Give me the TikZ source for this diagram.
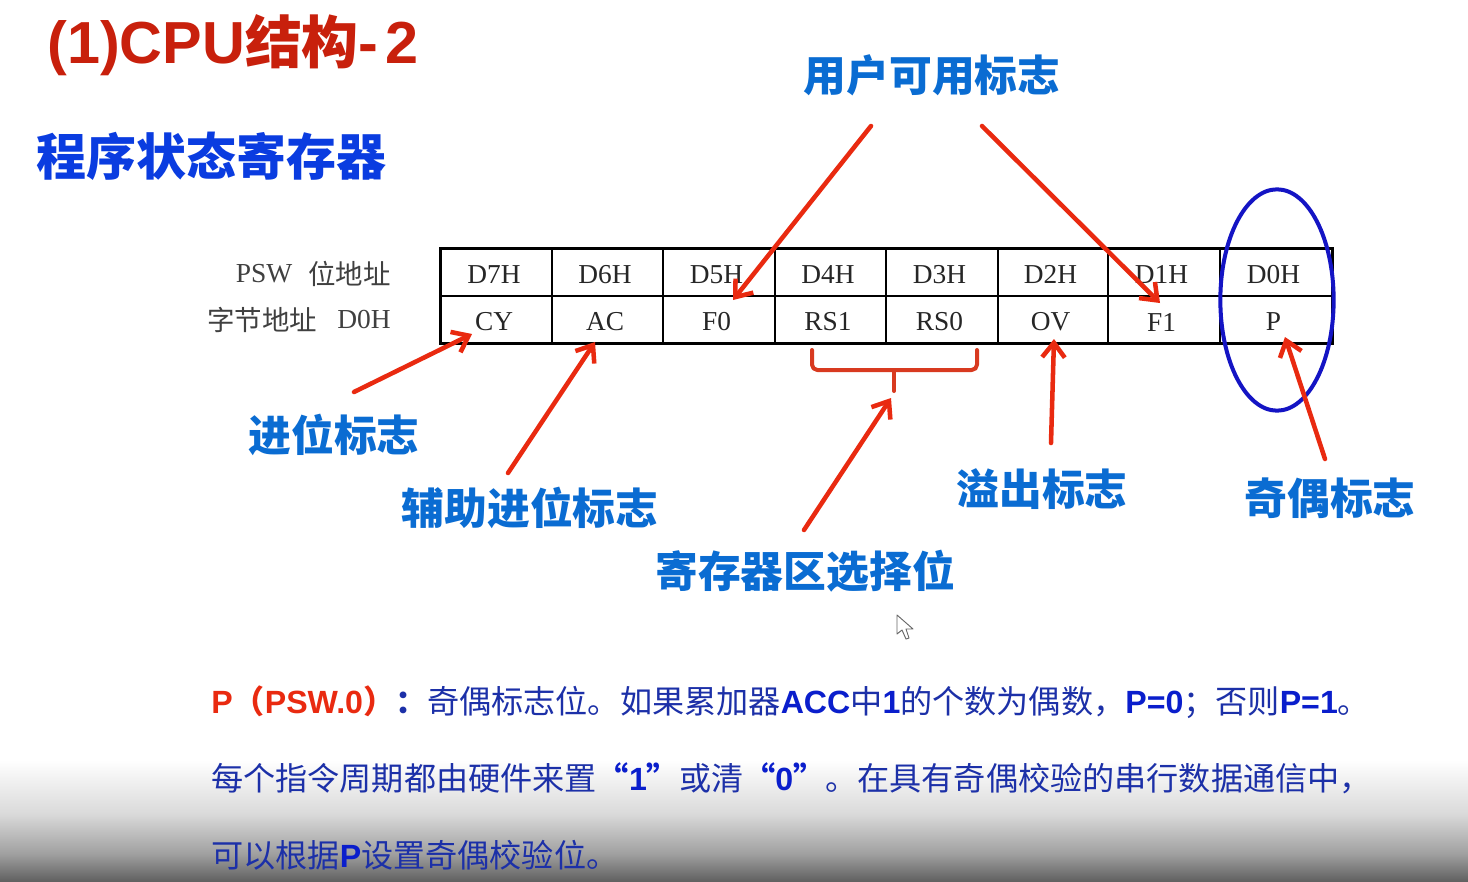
\documentclass[tikz,border=0pt]{standalone}
\usepackage{fontspec}
\setmainfont{Noto Sans CJK SC}
\newfontfamily\lat{Liberation Sans}
\newfontfamily\tnr{Liberation Serif}
\usetikzlibrary{arrows.meta,shapes.geometric}
\definecolor{arrowred}{HTML}{E92A10}
\definecolor{bracered}{HTML}{D83A20}
\definecolor{titlered}{HTML}{C8200C}
\definecolor{labelblue}{HTML}{0A6CD2}
\definecolor{headblue}{HTML}{0A3CE0}
\definecolor{bodyblue}{HTML}{1C30A8}
\definecolor{boldblue}{HTML}{0A1ECC}
\definecolor{ringblue}{HTML}{1414C4}
\newcommand{\Lb}[1]{{\lat\bfseries\color{boldblue}#1}}
\newcommand{\Qb}[1]{{\bfseries\color{boldblue}#1}}
\tikzset{
  x=0.75pt,y=-0.75pt,
  cellbox/.style={draw=black,line width=1.1pt,minimum height=47*0.75pt,inner sep=0pt},
  celltext/.style={inner sep=0pt,font=\tnr\fontsize{20.5}{24}\selectfont,text=black!85},
  sidelabel/.style={anchor=east,inner sep=0pt,text=black!75,font=\fontsize{20.6}{24}\selectfont},
  flaglabel/.style={inner sep=0pt,text=labelblue,font=\bfseries\fontsize{32.1}{36}\selectfont},
  bodyline/.style={anchor=west,inner sep=0pt,text=bodyblue,font=\fontsize{24.1}{28}\selectfont},
  redarrow/.style={draw=arrowred,line width=3.4pt,line cap=round,-{Straight Barb[length=11pt,width=17pt,line width=3.4pt]}},
}
\begin{document}
\begin{tikzpicture}
\useasboundingbox (0,0) rectangle (1468,882);
\fill[white] (0,0) rectangle (1468,882);
\shade[top color=white,bottom color=black!15] (0,760) rectangle (1468,815);
\shade[top color=black!15,bottom color=black!38] (0,814.5) rectangle (1468,855);
\shade[top color=black!38,bottom color=black!63] (0,854.5) rectangle (1468,882);

\node[anchor=west,inner sep=0pt,text=titlered] (title) at (47,45.5)
  {\bfseries\fontsize{42.7}{48}\selectfont {\lat\fontsize{44.5}{48}\selectfont (1)CPU}结构{\lat\fontsize{44.5}{48}\selectfont -\hspace{5pt}2}};
\node[anchor=west,inner sep=0pt,text=headblue] (head) at (36,156)
  {\bfseries\fontsize{37.5}{44}\selectfont 程序状态寄存器};

\node[sidelabel] (rowa) at (391,273.5) {{\tnr\raisebox{1pt}{PSW}}\hspace{12pt}位地址};
\node[sidelabel] (rowb) at (391,319.5) {字节地址\hspace{15pt}{\tnr\raisebox{1pt}{D0H}}};

\foreach \l/\r/\up/\dn/\nm in {441/552/D7H/CY/a,552/663/D6H/AC/b,663/775/D5H/F0/c,775/886/D4H/RS1/d,886/998/D3H/RS0/e,998/1108/D2H/OV/f,1108/1220/D1H/F1/g,1220/1332/D0H/P/h}{
  \pgfmathsetmacro{\cx}{(\l+\r)/2}
  \pgfmathsetmacro{\tx}{(\l+\r)/2-2.5}
  \pgfmathsetmacro{\cw}{(\r-\l)*0.75}
  \node[cellbox,minimum width=\cw pt] (top\nm) at (\cx,272.5) {};
  \node[cellbox,minimum width=\cw pt] (bot\nm) at (\cx,319.5) {};
  \node[celltext] (tt\nm) at (\tx,274.5) {\up};
  \node[celltext] (bt\nm) at (\tx,322) {\dn};
}
\draw[black,line width=2pt] (topa.north west) rectangle (both.south east);

\node[draw=ringblue,line width=3pt,ellipse,minimum width=85pt,minimum height=166pt,inner sep=0pt] (ring) at (1277,300) {};

\draw[draw=bracered,line width=3pt,line join=round,line cap=round,rounded corners=4pt]
  (812,350) coordinate (bl) -- (812,370) -- (977,370) -- (977,350) coordinate (br);
\draw[draw=bracered,line width=3pt,line cap=round] (894,370) coordinate (bm) -- (894,391) coordinate (bb);

\node[flaglabel] (user) at (932,75) {用户可用标志};
\node[flaglabel] (carry) at (334,435) {进位标志};
\node[flaglabel] (aux) at (530,508) {辅助进位标志};
\node[flaglabel] (regsel) at (805,571) {寄存器区选择位};
\node[flaglabel] (over) at (1042,489) {溢出标志};
\node[flaglabel] (parity) at (1330,498) {奇偶标志};

\coordinate (s1) at (871,126); \coordinate (t1) at (733,300);
\coordinate (s2) at (982,126); \coordinate (t2) at (1160,303);
\coordinate (s3) at (354,392); \coordinate (t3) at (472,334);
\coordinate (s4) at (508,473); \coordinate (t4) at (595,342);
\coordinate (s5) at (804,530); \coordinate (t5) at (891,398);
\coordinate (s6) at (1051,443); \coordinate (t6) at (1054,339);
\coordinate (s7) at (1325,459); \coordinate (t7) at (1285,337);
\foreach \i in {1,...,7}{\draw[redarrow] (s\i) -- (t\i);}

\node[bodyline] (line1) at (211,702) {{\lat\bfseries\color{arrowred}P}{\bfseries\color{arrowred}（{\lat PSW.0}）}{\bfseries：}奇偶标志位。如果累加器\Lb{ACC}中\Lb{1}的个数为偶数，\Lb{P=0}；否则\Lb{P=1}。};
\node[bodyline] (line2) at (211,778) {每个指令周期都由硬件来置\Qb{“}\Lb{1}\Qb{”}或清\Qb{“}\Lb{0}\Qb{”}。在具有奇偶校验的串行数据通信中，};
\node[bodyline] (line3) at (211,855) {可以根据\Lb{P}设置奇偶校验位。};

\draw[draw=black!60,fill=white,line width=0.7pt,line join=round]
  (897,615) -- (897,634) -- (902,630) -- (906,639) -- (909,638) -- (906,629) -- (913,629) -- cycle;
\end{tikzpicture}
\end{document}
